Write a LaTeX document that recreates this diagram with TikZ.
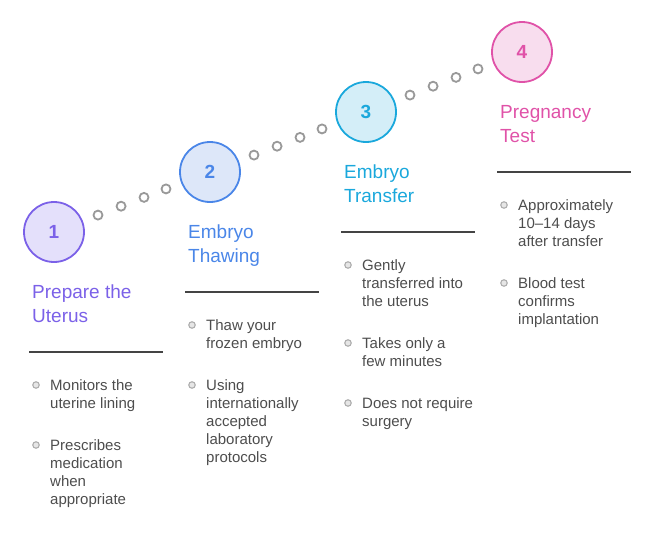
\documentclass[tikz,border=0pt]{standalone}
\usepackage{fontspec}
\setmainfont{Liberation Sans}
\usetikzlibrary{calc,positioning}
\definecolor{StepPurple}{HTML}{7B61E8}
\definecolor{StepPurpleBg}{HTML}{E4E0FB}
\definecolor{StepBlue}{HTML}{4A86E8}
\definecolor{StepBlueBg}{HTML}{DDE7F9}
\definecolor{StepCyan}{HTML}{1AA8DC}
\definecolor{StepCyanBg}{HTML}{D4EEF8}
\definecolor{StepPink}{HTML}{E052A8}
\definecolor{StepPinkBg}{HTML}{F8DDEE}
\definecolor{BodyGray}{HTML}{4D4D4D}
\definecolor{RuleGray}{HTML}{444444}
\definecolor{DotGray}{HTML}{999999}

\begin{document}
\begin{tikzpicture}[x=1pt,y=-1pt,
  stepnum/.style={circle,draw=#1,fill=#1Bg,line width=1.8pt,minimum size=60pt,inner sep=0pt,text=#1,font=\fontsize{19}{19}\selectfont\bfseries},
  steptitle/.style={anchor=north west,align=left,inner sep=0pt,text=#1,font=\fontsize{19}{24}\selectfont},
  itemtext/.style={anchor=north west,align=left,inner sep=0pt,text=BodyGray,font=\fontsize{15}{18}\selectfont},
  linkdot/.style={circle,draw=DotGray,fill=white,line width=1.8pt,inner sep=0pt,minimum size=9pt},
  itemdot/.style={circle,draw=DotGray!80,fill=DotGray!25,line width=1.1pt,inner sep=0pt,minimum size=6.5pt}]
\useasboundingbox (0,0) rectangle (654,536);
% step circles, titles and rules
\foreach \c/\n/\ttl [count=\k from 0] in {StepPurple/1/{Prepare the\\Uterus},StepBlue/2/{Embryo\\Thawing},StepCyan/3/{Embryo\\Transfer},StepPink/4/{Pregnancy\\Test}}{
  \node[stepnum=\c] (s\n) at (54+156*\k,232-60*\k) {\n};
  \node[steptitle=\c] (t\n) at (32+156*\k,285-60*\k) {\ttl};
  \draw[RuleGray,line width=1.5pt] (29+156*\k,352-60*\k) -- ++(134,0);
}
% dotted links
\foreach \a/\b in {s1/s2,s2/s3,s3/s4}
  \foreach \t [count=\i] in {.282,.43,.577,.718}
    \node[linkdot] (\a-\i) at ($(\a)!\t!(\b)$) {};
% bullet items (top of first line)
\foreach \x/\y/\txt [count=\i] in {
  50/379/{Monitors the\\uterine lining},
  50/439/{Prescribes\\medication\\when\\appropriate},
  206/319/{Thaw your\\frozen embryo},
  206/379/{Using\\internationally\\accepted\\laboratory\\protocols},
  362/259/{Gently\\transferred into\\the uterus},
  362/337/{Takes only a\\few minutes},
  362/397/{Does not require\\surgery},
  518/199/{Approximately\\10–14 days\\after transfer},
  518/277/{Blood test\\confirms\\implantation}}{
  \node[itemtext] (b\i) at (\x,\y) {\txt};
  \node[itemdot] (p\i) at (\x-14,\y+6) {};
}
\end{tikzpicture}
\end{document}
